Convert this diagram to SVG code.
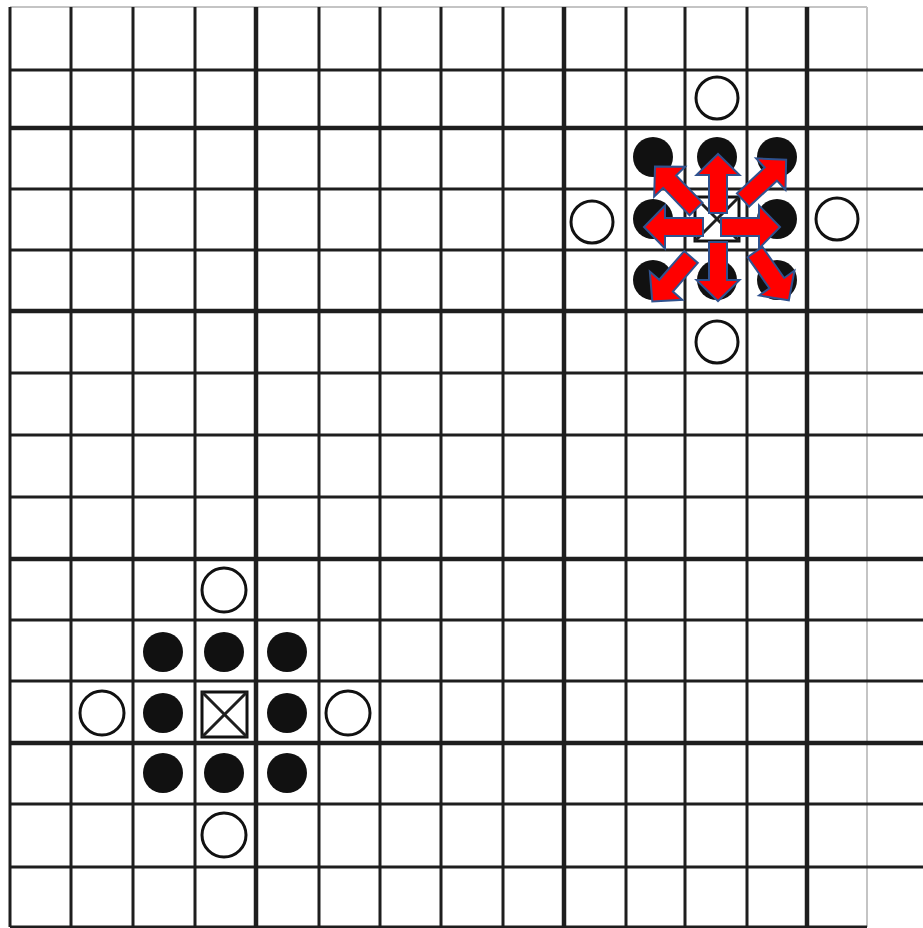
<svg xmlns="http://www.w3.org/2000/svg" width="923" height="928" viewBox="0 0 923 928">
<defs>
<style>
.g{stroke:#1e1e1e;stroke-width:3;fill:none}
.gt{stroke:#1e1e1e;stroke-width:4.5;fill:none}
.lt{stroke:#c4c4c4;stroke-width:2;fill:none}
.ext{stroke:#1e1e1e;stroke-width:3;fill:none}
.open{fill:#fff;stroke:#111;stroke-width:3}
.dot{fill:#111}
.box{fill:#fff;stroke:#111;stroke-width:3}
.arr{fill:#ff0000;stroke:#2f528f;stroke-width:2;stroke-linejoin:miter}
</style>
<polygon id="arrow" points="0,-9 38,-9 38,-21.5 59,0 38,21.5 38,9 0,9"/>
</defs>
<rect width="923" height="928" fill="#fff"/>
<g id="grid">
<line class="lt" x1="10" y1="7" x2="867" y2="7"/>
<line class="lt" x1="867" y1="7" x2="867" y2="927"/>
<line class="g" x1="10" y1="70" x2="923" y2="70"/>
<line class="gt" x1="10" y1="128" x2="923" y2="128"/>
<line class="g" x1="10" y1="189" x2="923" y2="189"/>
<line class="g" x1="10" y1="250" x2="923" y2="250"/>
<line class="gt" x1="10" y1="311" x2="923" y2="311"/>
<line class="g" x1="10" y1="373" x2="923" y2="373"/>
<line class="g" x1="10" y1="435" x2="923" y2="435"/>
<line class="g" x1="10" y1="497" x2="923" y2="497"/>
<line class="gt" x1="10" y1="559" x2="923" y2="559"/>
<line class="g" x1="10" y1="620" x2="923" y2="620"/>
<line class="g" x1="10" y1="681" x2="923" y2="681"/>
<line class="gt" x1="10" y1="743" x2="923" y2="743"/>
<line class="g" x1="10" y1="804" x2="923" y2="804"/>
<line class="g" x1="10" y1="867" x2="923" y2="867"/>
<line class="g" x1="10" y1="927" x2="867" y2="927"/>
<line class="g" x1="10" y1="7" x2="10" y2="927"/>
<line class="g" x1="71" y1="7" x2="71" y2="927"/>
<line class="g" x1="133" y1="7" x2="133" y2="927"/>
<line class="g" x1="195" y1="7" x2="195" y2="927"/>
<line class="gt" x1="256" y1="7" x2="256" y2="927"/>
<line class="g" x1="319" y1="7" x2="319" y2="927"/>
<line class="g" x1="380" y1="7" x2="380" y2="927"/>
<line class="g" x1="441" y1="7" x2="441" y2="927"/>
<line class="g" x1="503" y1="7" x2="503" y2="927"/>
<line class="gt" x1="564" y1="7" x2="564" y2="927"/>
<line class="g" x1="626" y1="7" x2="626" y2="927"/>
<line class="g" x1="685" y1="7" x2="685" y2="927"/>
<line class="g" x1="747" y1="7" x2="747" y2="927"/>
<line class="gt" x1="807" y1="7" x2="807" y2="927"/>
</g>
<g id="group-top-right">
<rect class="box" x="695" y="197" width="44" height="44"/>
<line class="g" x1="695" y1="197" x2="739" y2="241"/>
<line class="g" x1="739" y1="197" x2="695" y2="241"/>
<circle class="open" cx="717" cy="98" r="21"/>
<circle class="open" cx="592" cy="222" r="21"/>
<circle class="open" cx="837" cy="219" r="21"/>
<circle class="open" cx="717" cy="342" r="21"/>
<circle class="dot" cx="653" cy="157" r="20"/>
<circle class="dot" cx="717" cy="157" r="20"/>
<circle class="dot" cx="777" cy="157" r="20"/>
<circle class="dot" cx="653" cy="219" r="20"/>
<circle class="dot" cx="777" cy="219" r="20"/>
<circle class="dot" cx="653" cy="280" r="20"/>
<circle class="dot" cx="717" cy="280" r="20"/>
<circle class="dot" cx="777" cy="280" r="20"/>
</g>
<g id="arrows">
<use href="#arrow" class="arr" transform="translate(718,213) rotate(-90)"/>
<use href="#arrow" class="arr" transform="translate(718,242) rotate(90)"/>
<use href="#arrow" class="arr" transform="translate(703,227) rotate(180)"/>
<use href="#arrow" class="arr" transform="translate(721,227)"/>
<use href="#arrow" class="arr" transform="translate(696,209) rotate(-134)"/>
<use href="#arrow" class="arr" transform="translate(743,200) rotate(-43)"/>
<use href="#arrow" class="arr" transform="translate(691,257) rotate(131)"/>
<use href="#arrow" class="arr" transform="translate(755,252) rotate(55)"/>
</g>
<g id="group-bottom-left">
<rect class="box" x="202" y="692" width="45" height="45"/>
<line class="g" x1="202" y1="692" x2="247" y2="737"/>
<line class="g" x1="247" y1="692" x2="202" y2="737"/>
<circle class="open" cx="224" cy="590" r="22"/>
<circle class="open" cx="102" cy="713" r="22"/>
<circle class="open" cx="348" cy="713" r="22"/>
<circle class="open" cx="224" cy="835" r="22"/>
<circle class="dot" cx="163" cy="652" r="20"/>
<circle class="dot" cx="224" cy="652" r="20"/>
<circle class="dot" cx="287" cy="652" r="20"/>
<circle class="dot" cx="163" cy="713" r="20"/>
<circle class="dot" cx="287" cy="713" r="20"/>
<circle class="dot" cx="163" cy="773" r="20"/>
<circle class="dot" cx="224" cy="773" r="20"/>
<circle class="dot" cx="287" cy="773" r="20"/>
</g>
</svg>
